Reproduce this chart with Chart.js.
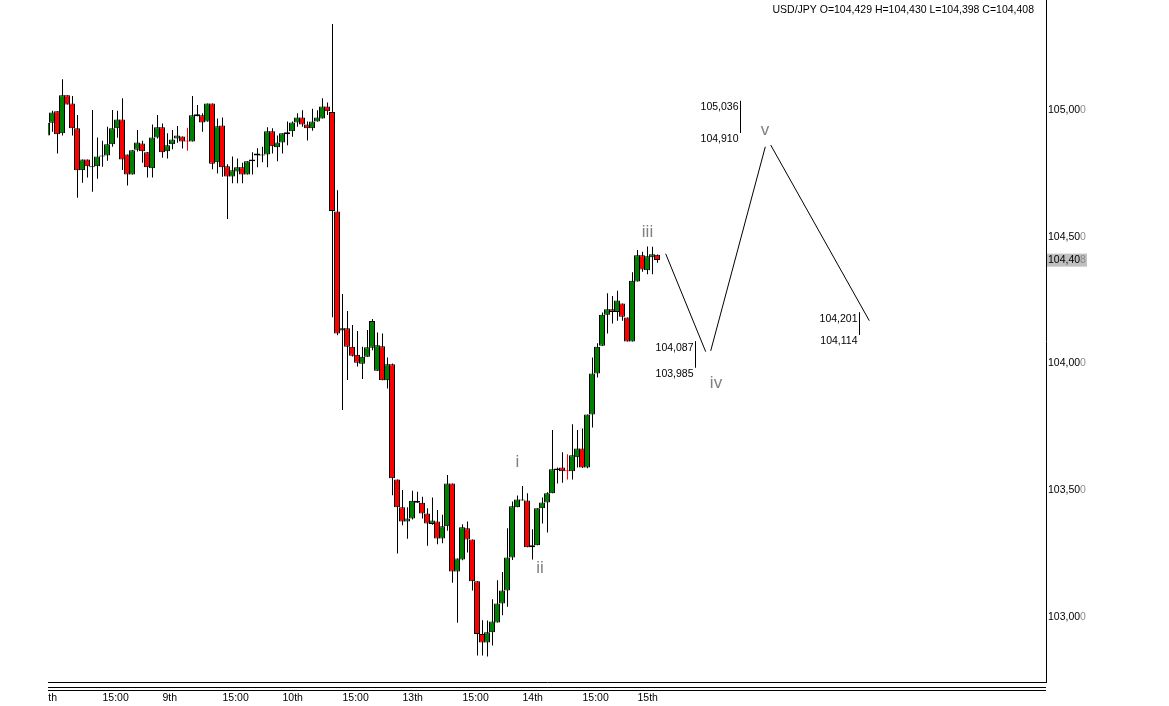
<!DOCTYPE html>
<html><head><meta charset="utf-8">
<script src="https://cdn.jsdelivr.net/npm/chart.js@4.4.0/dist/chart.umd.min.js"></script>
<style>html,body{margin:0;padding:0;background:#fff;overflow:hidden}canvas{display:block}</style>
</head><body>
<canvas id="c" width="1169" height="706"></canvas>
<script>
const symbol = "USD/JPY";
const opens = [104.900,104.950,104.995,104.908,105.058,105.026,104.928,104.762,104.805,104.778,
104.778,104.817,104.821,104.865,104.928,104.963,104.825,104.746,104.843,104.868,
104.833,104.770,104.892,104.932,104.837,104.865,104.888,104.896,104.876,104.876,
104.983,104.979,104.955,105.026,104.794,104.939,104.778,104.738,104.758,104.774,
104.746,104.798,104.829,104.821,104.825,104.916,104.853,104.872,104.904,104.916,
104.951,104.971,104.943,104.928,104.955,104.967,105.014,104.992,104.600,104.130,
104.139,104.066,104.035,103.999,104.027,104.062,103.972,104.068,103.934,103.997,
103.543,103.433,103.377,103.389,103.459,103.451,103.409,103.367,103.377,103.310,
103.358,103.527,103.180,103.227,103.350,103.306,103.141,102.933,102.900,102.940,
102.979,103.054,103.105,103.235,103.433,103.460,103.460,103.275,103.283,103.429,
103.452,103.488,103.580,103.590,103.575,103.575,103.630,103.665,103.590,103.799,
103.961,104.070,104.193,104.214,104.203,104.237,104.182,104.087,104.324,104.427,
104.368,104.419,104.429];
const highs = [104.955,104.997,104.995,105.121,105.058,105.055,104.980,104.805,104.805,105.000,
104.892,104.879,104.934,105.000,104.997,105.046,104.825,104.841,104.921,104.879,
104.833,104.943,104.980,104.947,104.908,104.921,104.937,104.896,104.930,105.055,
105.020,104.987,105.026,105.026,104.967,104.971,104.786,104.817,104.809,104.792,
104.798,104.833,104.849,104.855,104.932,104.928,104.900,104.908,104.955,104.955,
104.987,104.999,104.955,105.005,104.999,105.046,105.030,105.339,104.684,104.274,
104.207,104.152,104.128,104.066,104.132,104.176,104.123,104.119,104.024,104.000,
103.543,103.501,103.433,103.498,103.494,103.475,103.429,103.472,103.422,103.404,
103.560,103.527,103.231,103.366,103.377,103.306,103.141,102.988,102.987,103.070,
103.145,103.178,103.350,103.456,103.480,103.517,103.488,103.346,103.429,103.472,
103.492,103.738,103.590,103.650,103.642,103.761,103.738,103.744,103.799,104.024,
104.080,104.201,104.277,104.266,104.287,104.237,104.182,104.360,104.448,104.441,
104.462,104.461,104.430];
const lows = [104.895,104.914,104.829,104.900,105.022,104.900,104.654,104.713,104.734,104.678,
104.729,104.776,104.800,104.855,104.891,104.763,104.702,104.746,104.836,104.792,
104.734,104.734,104.888,104.812,104.809,104.845,104.871,104.848,104.839,104.876,
104.975,104.914,104.955,104.766,104.750,104.737,104.570,104.711,104.711,104.711,
104.746,104.746,104.774,104.794,104.774,104.829,104.798,104.829,104.861,104.895,
104.934,104.934,104.880,104.918,104.955,104.967,104.980,104.183,104.112,103.817,
103.935,104.028,103.988,103.939,104.027,104.053,103.972,103.934,103.902,103.481,
103.251,103.362,103.309,103.385,103.451,103.389,103.281,103.364,103.287,103.291,
103.341,103.135,102.978,103.224,103.255,103.105,102.849,102.849,102.845,102.888,
102.979,103.007,103.041,103.225,103.433,103.460,103.275,103.227,103.283,103.369,
103.334,103.488,103.527,103.530,103.543,103.543,103.590,103.588,103.587,103.748,
103.945,104.070,104.119,104.158,104.169,104.169,104.087,104.087,104.324,104.362,
104.352,104.352,104.398];
const closes = [104.950,104.990,104.904,105.058,105.022,104.928,104.762,104.805,104.778,104.774,
104.817,104.821,104.865,104.928,104.963,104.805,104.746,104.841,104.872,104.837,
104.774,104.892,104.932,104.833,104.861,104.884,104.900,104.876,104.876,104.979,
104.975,104.951,105.026,104.788,104.936,104.774,104.738,104.762,104.774,104.746,
104.798,104.805,104.821,104.825,104.916,104.857,104.872,104.908,104.912,104.951,
104.971,104.943,104.928,104.955,104.971,105.014,104.995,104.602,104.119,104.139,
104.066,104.031,104.003,104.027,104.064,104.168,104.072,103.934,103.997,103.548,
103.433,103.377,103.389,103.459,103.451,103.409,103.369,103.381,103.310,103.358,
103.527,103.180,103.231,103.354,103.306,103.141,102.933,102.900,102.940,102.983,
103.054,103.105,103.235,103.437,103.464,103.464,103.275,103.283,103.429,103.452,
103.488,103.583,103.586,103.575,103.575,103.638,103.665,103.590,103.799,103.961,
104.066,104.193,104.214,104.203,104.249,104.185,104.087,104.327,104.427,104.371,
104.423,104.431,104.408];

const xTickValues = [-1, 11, 23, 35, 47, 59, 71, 83, 95, 107, 118];
const xTickLabels = ["8th","15:00","9th","15:00","10th","15:00","13th","15:00","14th","15:00","15th"];
const yTickValues = [103.0, 103.5, 104.0, 104.5, 105.0];

const waveLabels = ["i","ii","iii","iv","v"];
const waveLabelX = [94, 98.5, 120, 133.7, 143.5];
const waveLabelY = [103.592, 103.174, 104.499, 103.903, 104.901];

const pathX = [123.64, 131.64, 132.64, 143.56, 144.64, 164.36];
const pathY = [104.433, 104.047, 104.050, 104.855, 104.862, 104.169];

const targetX = [129.6, 138.6, 162.4];
const targetHigh = [104.087, 105.036, 104.201];
const targetLow = [103.985, 104.910, 104.114];

const FAMILY = '"Liberation Sans", Arial, sans-serif';
const SMALL = 10.5;
const fmt = v => v.toFixed(3).replace('.', ',');

const idx = opens.map((_, i) => i);
const isDoji = i => opens[i] === closes[i];
const bodyData = idx.map(i => ({x: i, y: [opens[i], closes[i]]}));
const wickData = idx.map(i => ({x: i, y: [lows[i], highs[i]]}));
const bodyFill = idx.map(i => isDoji(i) ? '#ff0000' : (closes[i] > opens[i] ? '#008000' : '#ff0000'));
const bodyEdge = idx.map(i => isDoji(i) ? '#ff0000' : '#000000');
const wickFill = idx.map(i => isDoji(i) ? '#ff0000' : '#000000');

const pathData = [];
for (let k = 0; k < pathX.length; k += 2) {
  pathData.push({x: pathX[k], y: pathY[k]}, {x: pathX[k+1], y: pathY[k+1]}, {x: pathX[k+1], y: null});
}
const targetData = [];
targetX.forEach((x, k) => {
  targetData.push({x, y: targetHigh[k]}, {x, y: targetLow[k]}, {x, y: null});
});

const noPad = s => { s.paddingTop = 0; s.paddingBottom = 0; s.paddingLeft = 0; s.paddingRight = 0; };

const overlay = {
  id: 'overlay',
  afterDraw(chart) {
    const {ctx, chartArea: ca} = chart;
    const xs = chart.scales.x, ys = chart.scales.y;
    ctx.save();
    ctx.fillStyle = '#ffffff';
    ctx.fillRect(0, ca.bottom + 1, ca.left, chart.height - ca.bottom);
    ctx.strokeStyle = '#000'; ctx.lineWidth = 1;
    [5.5, 8.5].forEach(d => {
      ctx.beginPath(); ctx.moveTo(ca.left, ca.bottom + d); ctx.lineTo(ca.right, ca.bottom + d); ctx.stroke();
    });
    ctx.font = SMALL + 'px ' + FAMILY;
    ctx.textBaseline = 'middle';
    ctx.textAlign = 'left';
    const x0 = ys.left + ys.options.ticks.padding;
    yTickValues.forEach(v => {
      const s = fmt(v), main = s.slice(0, -1);
      ctx.fillStyle = '#8c8c8c';
      ctx.fillText(s.slice(-1), x0 + ctx.measureText(main).width, ys.getPixelForValue(v));
    });
    const last = closes[closes.length - 1];
    const ls = fmt(last), lmain = ls.slice(0, -1);
    const py = ys.getPixelForValue(last);
    const lw = ctx.measureText(ls).width;
    ctx.fillStyle = '#c0c0c0';
    ctx.fillRect(x0 - 1, py - 6.5, lw + 2, 13);
    ctx.fillStyle = '#000';
    ctx.fillText(lmain, x0, py);
    ctx.fillStyle = '#8c8c8c';
    ctx.fillText(ls.slice(-1), x0 + ctx.measureText(lmain).width, py);
    const n = closes.length - 1;
    ctx.fillStyle = '#000';
    ctx.textAlign = 'right';
    ctx.fillText(symbol + ' O=' + fmt(opens[n]) + ' H=' + fmt(highs[n]) + ' L=' + fmt(lows[n]) + ' C=' + fmt(closes[n]), ca.right - 12, 10);
    targetX.forEach((x, k) => {
      const px = xs.getPixelForValue(x) - 2;
      ctx.fillText(fmt(targetHigh[k]), px, ys.getPixelForValue(targetHigh[k]) + 6.5);
      ctx.fillText(fmt(targetLow[k]), px, ys.getPixelForValue(targetLow[k]) + 6.5);
    });
    ctx.font = '17px ' + FAMILY;
    ctx.fillStyle = '#808080';
    ctx.textAlign = 'center';
    ctx.textBaseline = 'alphabetic';
    waveLabels.forEach((t, k) => {
      ctx.fillText(t, xs.getPixelForValue(waveLabelX[k]), ys.getPixelForValue(waveLabelY[k]));
    });
    ctx.restore();
  }
};

new Chart(document.getElementById('c'), {
  type: 'bar',
  data: {
    datasets: [
      {type: 'bar', xAxisID: 'xb', data: bodyData, backgroundColor: bodyFill, borderColor: bodyEdge, borderWidth: 1,
       borderSkipped: false, barThickness: 6, grouped: false, minBarLength: 1, inflateAmount: 0, order: 0},
      {type: 'bar', xAxisID: 'x', data: wickData, backgroundColor: wickFill, borderWidth: 0,
       barThickness: 1, grouped: false, inflateAmount: 0, order: 1},
      {type: 'line', xAxisID: 'x', data: pathData, borderColor: '#000', borderWidth: 1, pointRadius: 0,
       spanGaps: false, fill: false, tension: 0, order: 2},
      {type: 'line', xAxisID: 'x', data: targetData, borderColor: '#000', borderWidth: 1, pointRadius: 0,
       spanGaps: false, fill: false, tension: 0, order: 2}
    ]
  },
  options: {
    responsive: false,
    animation: false,
    events: [],
    layout: {padding: {left: 48, top: 0, right: 0, bottom: 0}},
    plugins: {legend: {display: false}, tooltip: {enabled: false}, title: {display: false}},
    scales: {
      x: {
        type: 'linear', min: 0.1, max: 199.7, offset: false,
        grid: {display: false, drawTicks: false},
        border: {display: true, color: '#000', width: 1},
        afterBuildTicks: s => { s.ticks = xTickValues.map(v => ({value: v})); },
        afterFit: s => { s.height = 24; noPad(s); },
        ticks: {
          autoSkip: false, maxRotation: 0, align: 'start', padding: 10, color: '#000',
          font: {family: FAMILY, size: SMALL},
          callback: v => xTickLabels[xTickValues.indexOf(v)]
        }
      },
      xb: {
        type: 'linear', position: 'bottom', display: false, min: 0.2, max: 199.8, offset: false,
        grid: {display: false}
      },
      y: {
        type: 'linear', position: 'right', min: 102.744, max: 105.434,
        grid: {display: false, drawTicks: false},
        border: {display: true, color: '#000', width: 1},
        afterBuildTicks: s => { s.ticks = yTickValues.map(v => ({value: v})); },
        afterFit: s => { s.width = 123; noPad(s); },
        ticks: {
          padding: 2, color: '#000',
          font: {family: FAMILY, size: SMALL},
          callback: v => fmt(v).slice(0, -1)
        }
      }
    }
  },
  plugins: [overlay]
});
</script>
</body></html>
